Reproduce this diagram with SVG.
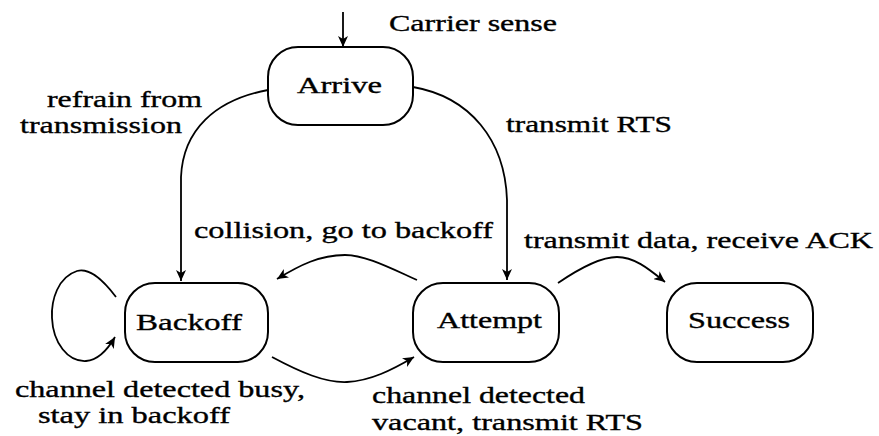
<svg xmlns="http://www.w3.org/2000/svg" width="879" height="436" viewBox="0 0 879 436">
<style>
text{font-family:"Liberation Serif","Times New Roman",serif;font-size:24px;fill:#000;stroke:#000;stroke-width:0.35}
.node rect{fill:#fff;stroke:#000;stroke-width:2}
.edge{fill:none;stroke:#000;stroke-width:1.8;marker-end:url(#ah)}
</style>
<defs>
<marker id="ah" markerUnits="userSpaceOnUse" markerWidth="12" markerHeight="10" refX="11" refY="5" orient="auto">
<path d="M0,0 L11,5 L0,10 L3,5 Z" fill="#000"/>
</marker>
</defs>
<rect width="879" height="436" fill="#fff"/>
<g id="connectors">
<path class="edge" d="M343,12 L343,47"/>
<path class="edge" d="M268,90 C215,100 183,130 181,177 L181,281"/>
<path class="edge" d="M413,87 C470,97 505,140 507,200 L507,280"/>
<path class="edge" d="M417,280 C390,268 365,255 345,255 C320,255 300,265 277,279"/>
<path class="edge" d="M272,357 C300,372 325,383 347,382 C370,381 392,370 414,357"/>
<path class="edge" d="M558,283 C580,268 600,257 617,257 C635,257 650,270 665,282"/>
<path class="edge" d="M116,297 C100,276 88,268 77,271 C58,277 51,300 52,318 C53,343 68,362 86,361 C99,360 108,349 115,337"/>
</g>
<g id="labels">
<text x="389" y="31" textLength="168" lengthAdjust="spacingAndGlyphs">Carrier sense</text>
<text x="47" y="107" textLength="155" lengthAdjust="spacingAndGlyphs">refrain from</text>
<text x="20" y="133" textLength="162" lengthAdjust="spacingAndGlyphs">transmission</text>
<text x="506" y="132" textLength="166" lengthAdjust="spacingAndGlyphs">transmit RTS</text>
<text x="194" y="238" textLength="299" lengthAdjust="spacingAndGlyphs">collision, go to backoff</text>
<text x="524" y="248" textLength="349" lengthAdjust="spacingAndGlyphs">transmit data, receive ACK</text>
<text x="15" y="397" textLength="290" lengthAdjust="spacingAndGlyphs">channel detected busy,</text>
<text x="38" y="423" textLength="192" lengthAdjust="spacingAndGlyphs">stay in backoff</text>
<text x="372" y="403" textLength="213" lengthAdjust="spacingAndGlyphs">channel detected</text>
<text x="372" y="430" textLength="271" lengthAdjust="spacingAndGlyphs">vacant, transmit RTS</text>
</g>
<g id="arrive" class="node">
<rect x="268" y="47" width="145" height="78" rx="30" ry="30"/>
<text x="297" y="93" textLength="85" lengthAdjust="spacingAndGlyphs">Arrive</text>
</g>
<g id="backoff" class="node">
<rect x="125" y="283" width="143" height="79" rx="30" ry="30"/>
<text x="136" y="330" textLength="106" lengthAdjust="spacingAndGlyphs">Backoff</text>
</g>
<g id="attempt" class="node">
<rect x="413" y="283" width="146" height="79" rx="30" ry="30"/>
<text x="437" y="328" textLength="105" lengthAdjust="spacingAndGlyphs">Attempt</text>
</g>
<g id="success" class="node">
<rect x="667" y="283" width="146" height="79" rx="30" ry="30"/>
<text x="688" y="328" textLength="102" lengthAdjust="spacingAndGlyphs">Success</text>
</g>
</svg>
